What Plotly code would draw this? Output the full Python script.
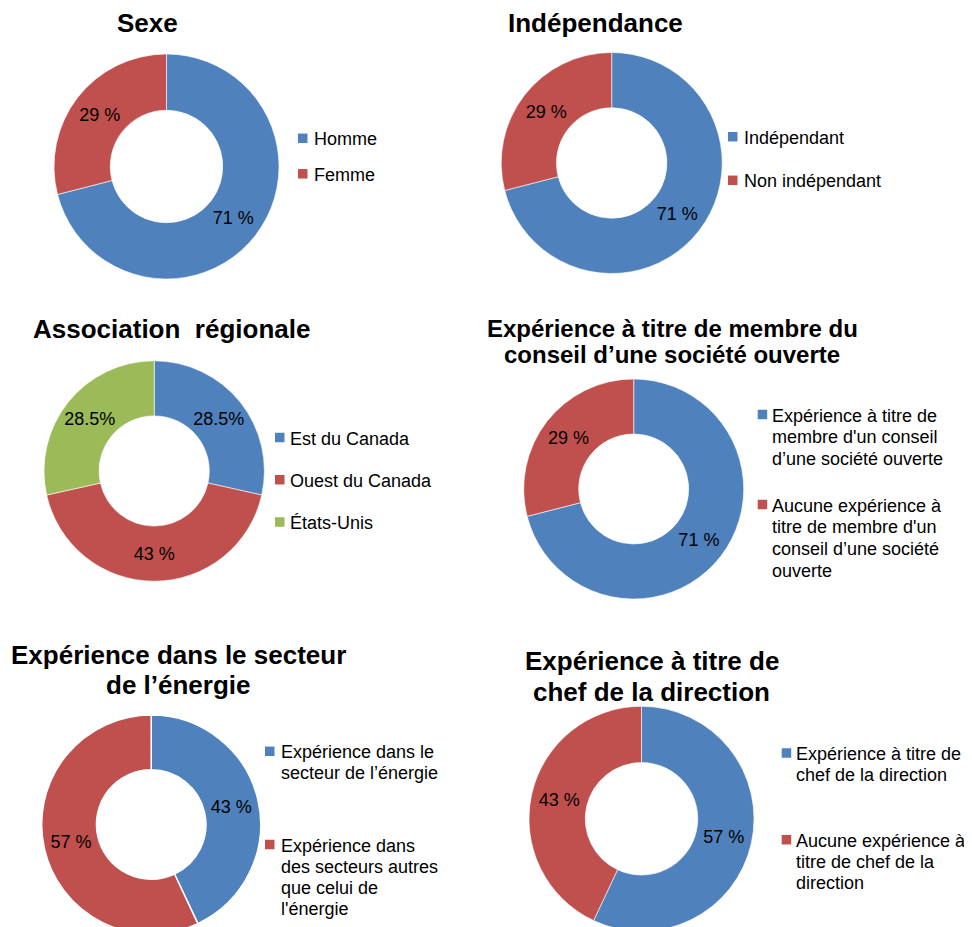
import plotly.graph_objects as go

W, H = 972, 927
OFF = 8  # the page body adds an 8px margin around the plot

BLUE = "#4F81BD"
RED = "#C0504D"
GREEN = "#9BBB59"
FONT = "Liberation Sans, Arial, sans-serif"

# ---- data ----
SEXE_TITLE = ["Sexe"]
SEXE_LABELS = ["Homme", "Femme"]
SEXE_VALUES = [71, 29]
SEXE_TEXT = ["71 %", "29 %"]

INDEP_TITLE = ["Indépendance"]
INDEP_LABELS = ["Indépendant", "Non indépendant"]
INDEP_VALUES = [71, 29]
INDEP_TEXT = ["71 %", "29 %"]

REGION_TITLE = ["Association  régionale"]
REGION_LABELS = ["Est du Canada", "Ouest du Canada", "États-Unis"]
REGION_VALUES = [28.5, 43, 28.5]
REGION_TEXT = ["28.5%", "43 %", "28.5%"]

CONSEIL_TITLE = ["Expérience à titre de membre du", "conseil d’une société ouverte"]
CONSEIL_LABELS = ["Expérience à titre de\nmembre d'un conseil\nd’une société ouverte",
                  "Aucune expérience à\ntitre de membre d'un\nconseil d’une société\nouverte"]
CONSEIL_VALUES = [71, 29]
CONSEIL_TEXT = ["71 %", "29 %"]

ENERGIE_TITLE = ["Expérience dans le secteur", "de l’énergie"]
ENERGIE_LABELS = ["Expérience dans le\nsecteur de l’énergie",
                  "Expérience dans\ndes secteurs autres\nque celui de\nl'énergie"]
ENERGIE_VALUES = [43, 57]
ENERGIE_TEXT = ["43 %", "57 %"]

CHEF_TITLE = ["Expérience à titre de", "chef de la direction"]
CHEF_LABELS = ["Expérience à titre de\nchef de la direction",
               "Aucune expérience à\ntitre de chef de la\ndirection"]
CHEF_VALUES = [57, 43]
CHEF_TEXT = ["57 %", "43 %"]

# ---- layout of each panel (page pixels) ----
charts = [
    dict(title=SEXE_TITLE, labels=SEXE_LABELS, values=SEXE_VALUES, text=SEXE_TEXT,
         colors=[BLUE, RED], c=(166.5, 166.5), r=112.5, tx=147, ty=[22], tsize=26,
         sq=298, lx=312, ly=[138.3, 173.8], lsp=21.5, border=0.6),
    dict(title=INDEP_TITLE, labels=INDEP_LABELS, values=INDEP_VALUES, text=INDEP_TEXT,
         colors=[BLUE, RED], c=(611.7, 163), r=110.5, tx=595, ty=[22], tsize=26,
         sq=728, lx=742, ly=[136.7, 180.3], lsp=21.5, border=0.6),
    dict(title=REGION_TITLE, labels=REGION_LABELS, values=REGION_VALUES, text=REGION_TEXT,
         colors=[BLUE, RED, GREEN], c=(154.2, 471), r=110.2, tx=171.7, ty=[327.5], tsize=26,
         sq=275, lx=288, ly=[437.5, 479.7, 522], lsp=21.5, border=0.6),
    dict(title=CONSEIL_TITLE, labels=CONSEIL_LABELS, values=CONSEIL_VALUES, text=CONSEIL_TEXT,
         colors=[BLUE, RED], c=(633.7, 489), r=110, tx=672, ty=[327.2, 353.3], tsize=24,
         sq=757.7, lx=770.3, ly=[414.5, 504.5], lsp=21.7, border=0.6),
    dict(title=ENERGIE_TITLE, labels=ENERGIE_LABELS, values=ENERGIE_VALUES, text=ENERGIE_TEXT,
         colors=[BLUE, RED], c=(151.2, 824.5), r=109.5, tx=178.8, ty=[653.7, 683.5], tsize=26,
         sq=265, lx=279, ly=[751.3, 844.5], lsp=21.0, border=1.5),
    dict(title=CHEF_TITLE, labels=CHEF_LABELS, values=CHEF_VALUES, text=CHEF_TEXT,
         colors=[BLUE, RED], c=(641.5, 818.8), r=112.5, tx=651.5, ty=[660.3, 690.8], tsize=26,
         sq=781.7, lx=794.3, ly=[753, 839.7], lsp=21.3, border=0.6),
]


def X(px):
    return (px - OFF) / W


def Y(py):
    return 1 - (py - OFF) / H


fig = go.Figure()
annotations = []
shapes = []

for ch in charts:
    cx, cy = ch["c"]
    r = ch["r"]
    fig.add_trace(go.Pie(
        labels=[l.replace("\n", " ") for l in ch["labels"]],
        values=ch["values"],
        text=ch["text"],
        texttemplate="%{text}",
        textposition="inside",
        insidetextorientation="horizontal",
        textfont=dict(family=FONT, size=18, color="black"),
        hole=0.5,
        sort=False,
        direction="clockwise",
        rotation=0,
        marker=dict(colors=ch["colors"], line=dict(color="white", width=ch["border"])),
        domain=dict(x=[X(cx - r), X(cx + r)], y=[Y(cy + r), Y(cy - r)]),
        showlegend=False,
        hoverinfo="label+percent",
    ))

    # title, one annotation per line
    for line, ty in zip(ch["title"], ch["ty"]):
        annotations.append(dict(
            x=X(ch["tx"]), y=Y(ty + 1), xref="paper", yref="paper",
            xanchor="center", yanchor="middle", showarrow=False,
            text="<b>" + line + "</b>",
            font=dict(family=FONT, size=ch["tsize"], color="black"),
        ))

    # legend: coloured square + text lines
    for label, color, ly in zip(ch["labels"], ch["colors"], ch["ly"]):
        s = 9.5
        shapes.append(dict(
            type="rect", xref="paper", yref="paper",
            x0=X(ch["sq"]), x1=X(ch["sq"] + s),
            y0=Y(ly + s / 2), y1=Y(ly - s / 2),
            fillcolor=color, line=dict(width=0),
        ))
        for i, part in enumerate(label.split("\n")):
            annotations.append(dict(
                x=X(ch["lx"]), y=Y(ly + i * ch["lsp"] + 1), xref="paper", yref="paper",
                xanchor="left", yanchor="middle", showarrow=False,
                text=part,
                font=dict(family=FONT, size=18, color="black"),
            ))

fig.update_layout(
    width=W, height=H,
    margin=dict(l=0, r=0, t=0, b=0),
    paper_bgcolor="white",
    plot_bgcolor="white",
    annotations=annotations,
    shapes=shapes,
)

fig.write_html("out.html")
